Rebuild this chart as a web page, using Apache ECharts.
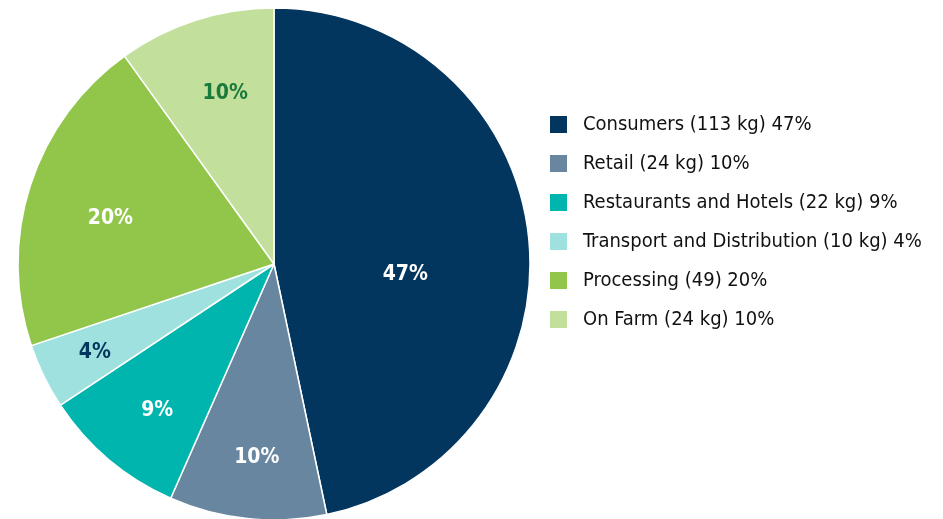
<!DOCTYPE html>
<html>
<head>
<meta charset="utf-8">
<script src="https://cdn.jsdelivr.net/npm/echarts@6/dist/echarts.min.js"></script>
<style>html,body{margin:0;padding:0;background:#fff;}#main{width:943px;height:519px;}</style>
</head>
<body>
<div id="main"></div>
<script>
const categories = ['Consumers', 'Retail', 'Restaurants and Hotels', 'Transport and Distribution', 'Processing', 'On Farm'];
const weightsKg = [113, 24, 22, 10, 49, 24];
const weightLabels = ['(113 kg)', '(24 kg)', '(22 kg)', '(10 kg)', '(49)', '(24 kg)'];
const percentLabels = ['47%', '10%', '9%', '4%', '20%', '10%'];
const colors = ['#03365f', '#68869f', '#00b5ad', '#9fe1df', '#92c64a', '#c2df9b'];
const labelColors = ['#ffffff', '#ffffff', '#ffffff', '#03365f', '#ffffff', '#1a7a3c'];
const labelOffsets = [[1, 24], [3, 0], [9, -2], [-4, 3], [22, 14], [11, 15]];

const FONT = "'Liberation Sans Narrow', 'DejaVu Sans Condensed', 'Roboto', sans-serif";

const mainData = categories.map((c, i) => ({
  name: c, value: weightsKg[i],
  itemStyle: { color: colors[i] },
  label: { show: i === 0, offset: labelOffsets[i] }
}));
const overlayData = categories.map((c, i) => ({
  name: c, value: weightsKg[i],
  itemStyle: { color: 'rgba(0,0,0,0)' },
  label: { show: i !== 0, color: labelColors[i], offset: labelOffsets[i] }
}));

const chart = echarts.init(document.getElementById('main'), null, { renderer: 'canvas' });
chart.setOption({
  animation: false,
  backgroundColor: '#ffffff',
  legend: {
    orient: 'vertical',
    left: 548, top: 114, padding: 0,
    itemWidth: 19, itemHeight: 19, itemGap: 18,
    icon: 'rect',
    data: categories,
    textStyle: { fontFamily: FONT, fontSize: 20, color: '#111111', lineHeight: 19, padding: [0, 0, 0, 10] },
    formatter: function (name) {
      const i = categories.indexOf(name);
      return name + ' ' + weightLabels[i] + ' ' + percentLabels[i];
    }
  },
  series: [
    {
      type: 'pie', name: 'main',
      center: [274, 264], radius: [0, 256],
      startAngle: 90, clockwise: true,
      avoidLabelOverlap: false,
      itemStyle: { borderColor: '#ffffff', borderWidth: 1.5 },
      label: {
        position: 'inside', color: '#ffffff', fontFamily: FONT, fontWeight: 'bold', fontSize: 21,
        formatter: p => percentLabels[p.dataIndex]
      },
      labelLine: { show: false },
      emphasis: { disabled: true },
      data: mainData
    },
    {
      type: 'pie', name: 'labels', silent: true,
      center: [274, 264], radius: [128, 256],
      startAngle: 90, clockwise: true,
      avoidLabelOverlap: false,
      itemStyle: { borderWidth: 0 },
      label: {
        position: 'inside', fontFamily: FONT, fontWeight: 'bold', fontSize: 21,
        formatter: p => percentLabels[p.dataIndex]
      },
      labelLine: { show: false },
      emphasis: { disabled: true },
      legendHoverLink: false,
      data: overlayData
    }
  ]
});
</script>
</body>
</html>
